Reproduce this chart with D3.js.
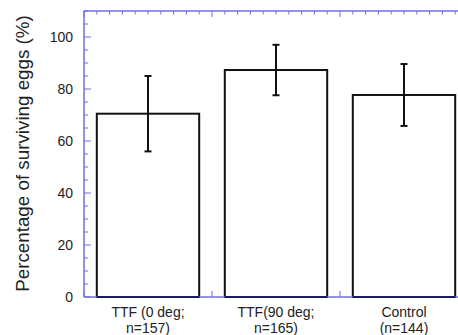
<!DOCTYPE html>
<html lang="en">
<head>
  <meta charset="utf-8">
  <title>Surviving eggs</title>
  <script src="https://d3js.org/d3.v7.min.js"></script>
  <style>
    body { margin: 0; background: #fff; }
    .label { font: 14px "Liberation Sans", Arial, sans-serif; fill: #222; }
    .ytitle { font: 18.8px "Liberation Sans", Arial, sans-serif; fill: #222; }
  </style>
</head>
<body>
<svg id="chart" width="458" height="335"></svg>
<script>
  // data
  var categories = [["TTF (0 deg;", "n=157)"], ["TTF(90 deg;", "n=165)"], ["Control", "(n=144)"]];
  var means = [70.5, 87.3, 77.7];
  var errors = [14.5, 9.7, 11.9];
  var yTicks = [0, 20, 40, 60, 80, 100];

  var axisColor = "#6e6ef0";
  var svg = d3.select("#chart");

  var x = d3.scaleLinear().domain([0.5, 3.5]).range([84, 468]);
  var y = d3.scaleLinear().domain([0, 110]).range([297, 11]);

  // frame lines
  svg.append("line").attr("x1", 84).attr("x2", 458).attr("y1", y(110)).attr("y2", y(110))
    .attr("stroke", axisColor).attr("stroke-width", 1.5);
  svg.append("line").attr("x1", 84).attr("x2", 84).attr("y1", y(110)).attr("y2", y(0))
    .attr("stroke", axisColor).attr("stroke-width", 1.5);

  // y ticks (inward)
  var yMinor = d3.range(0, 111, 5);
  svg.selectAll(".ytick").data(yMinor).enter().append("line")
    .attr("x1", 84).attr("x2", function(d) { return d % 20 === 0 ? 91 : 88; })
    .attr("y1", function(d) { return y(d); }).attr("y2", function(d) { return y(d); })
    .attr("stroke", axisColor).attr("stroke-width", 1);

  svg.selectAll(".ylab").data(yTicks).enter().append("text")
    .attr("class", "label")
    .attr("x", 73).attr("y", function(d) { return y(d); })
    .attr("dy", "0.36em")
    .attr("text-anchor", "end")
    .text(function(d) { return d; });

  // x ticks, top and bottom (inward)
  var xMinor = d3.range(5, 36).map(function(d) { return d / 10; });
  svg.selectAll(".xtop").data(xMinor).enter().append("line")
    .attr("x1", function(d) { return x(d); }).attr("x2", function(d) { return x(d); })
    .attr("y1", y(110))
    .attr("y2", function(d) { return Math.abs(d * 10 % 10 - 5) < 0.01 ? y(110) + 6 : y(110) + 3.5; })
    .attr("stroke", axisColor).attr("stroke-width", 1);
  svg.selectAll(".xbot").data(xMinor).enter().append("line")
    .attr("x1", function(d) { return x(d); }).attr("x2", function(d) { return x(d); })
    .attr("y1", y(0))
    .attr("y2", function(d) { return Math.abs(d * 10 % 10 - 5) < 0.01 ? y(0) - 6 : y(0) - 3.5; })
    .attr("stroke", axisColor).attr("stroke-width", 1);

  // bars
  var bw = 0.8;
  svg.selectAll(".bar").data(means).enter().append("rect")
    .attr("x", function(d, i) { return x(i + 1 - bw / 2); })
    .attr("width", x(bw) - x(0))
    .attr("y", function(d) { return y(d); })
    .attr("height", function(d) { return y(0) - y(d); })
    .attr("fill", "white").attr("stroke", "#111").attr("stroke-width", 2);

  svg.append("line").attr("x1", 84).attr("x2", 458).attr("y1", y(0)).attr("y2", y(0))
    .attr("stroke", axisColor).attr("stroke-width", 1.5);
  svg.selectAll(".barbase").data(means).enter().append("line")
    .attr("x1", function(d, i) { return x(i + 1 - bw / 2); })
    .attr("x2", function(d, i) { return x(i + 1 + bw / 2); })
    .attr("y1", y(0)).attr("y2", y(0))
    .attr("stroke", "#1a1a70").attr("stroke-width", 2);

  // error bars
  var eb = svg.selectAll(".err").data(means).enter().append("g");
  eb.append("line")
    .attr("x1", function(d, i) { return x(i + 1); }).attr("x2", function(d, i) { return x(i + 1); })
    .attr("y1", function(d, i) { return y(d + errors[i]); })
    .attr("y2", function(d, i) { return y(d - errors[i]); })
    .attr("stroke", "#111").attr("stroke-width", 2);
  eb.append("line")
    .attr("x1", function(d, i) { return x(i + 1) - 3.5; }).attr("x2", function(d, i) { return x(i + 1) + 3.5; })
    .attr("y1", function(d, i) { return y(d + errors[i]); })
    .attr("y2", function(d, i) { return y(d + errors[i]); })
    .attr("stroke", "#111").attr("stroke-width", 2);
  eb.append("line")
    .attr("x1", function(d, i) { return x(i + 1) - 3.5; }).attr("x2", function(d, i) { return x(i + 1) + 3.5; })
    .attr("y1", function(d, i) { return y(d - errors[i]); })
    .attr("y2", function(d, i) { return y(d - errors[i]); })
    .attr("stroke", "#111").attr("stroke-width", 2);

  // category labels
  var cl = svg.selectAll(".cat").data(categories).enter().append("text")
    .attr("class", "label")
    .attr("text-anchor", "middle")
    .attr("x", function(d, i) { return x(i + 1); })
    .attr("y", 317);
  cl.append("tspan").attr("x", function(d, i) { return x(i + 1); }).text(function(d) { return d[0]; });
  cl.append("tspan").attr("x", function(d, i) { return x(i + 1); }).attr("dy", 15.5).text(function(d) { return d[1]; });

  // y axis title
  svg.append("text")
    .attr("class", "ytitle")
    .attr("transform", "translate(29," + ((10 + 297) / 2) + ") rotate(-90)")
    .attr("text-anchor", "middle")
    .text("Percentage of surviving eggs (%)");
</script>
</body>
</html>
